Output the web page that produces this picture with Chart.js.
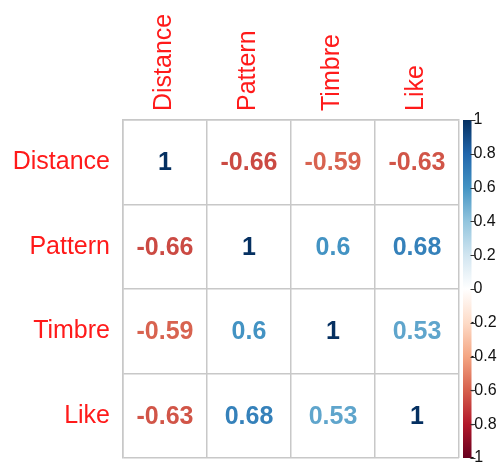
<!DOCTYPE html>
<html lang="en">
<head>
    <meta charset="UTF-8">
    <title>Correlation Matrix</title>
    <script src="https://cdn.jsdelivr.net/npm/chart.js"></script>
    <style>
        body { margin: 0; background: #fff; }
    </style>
</head>
<body>
    <canvas id="corrChart" width="502" height="463"></canvas>

    <script>
        // variables and correlation values (row by row)
        const variables = ['Distance', 'Pattern', 'Timbre', 'Like'];
        const rowDistance = [1, -0.66, -0.59, -0.63];
        const rowPattern = [-0.66, 1, 0.6, 0.68];
        const rowTimbre = [-0.59, 0.6, 1, 0.53];
        const rowLike = [-0.63, 0.68, 0.53, 1];
        const colorbarTicks = [-1, -0.8, -0.6, -0.4, -0.2, 0, 0.2, 0.4, 0.6, 0.8, 1];

        // RdBu palette used by corrplot, from -1 to 1
        const palette = ['#67001F', '#B2182B', '#D6604D', '#F4A582', '#FDDBC7', '#FFFFFF',
                         '#D1E5F0', '#92C5DE', '#4393C3', '#2166AC', '#053061'];

        function hexToRgb(h) {
            return [parseInt(h.slice(1, 3), 16), parseInt(h.slice(3, 5), 16), parseInt(h.slice(5, 7), 16)];
        }

        function colorFor(v) {
            let pos = (v + 1) / 2 * (palette.length - 1);
            let i = Math.min(Math.floor(pos), palette.length - 2);
            let t = pos - i;
            let a = hexToRgb(palette[i]), b = hexToRgb(palette[i + 1]);
            let c = a.map((x, k) => Math.round(x + (b[k] - x) * t));
            return 'rgb(' + c.join(',') + ')';
        }

        // build the points for the scatter dataset
        const rows = [rowDistance, rowPattern, rowTimbre, rowLike];
        const points = [];
        rows.forEach((row, r) => {
            row.forEach((v, c) => {
                points.push({ x: variables[c], y: variables[r], v: v });
            });
        });

        const gridColor = '#c8c8c8';
        const labelRed = '#ff1a1a';
        const fontFamily = '"Liberation Sans", Arial, sans-serif';

        // fixed axis sizes, no extra padding from label overhang
        function fixSize(prop, size) {
            return s => {
                s[prop] = size;
                s.paddingTop = 0;
                s.paddingBottom = 0;
                s.paddingLeft = 0;
                s.paddingRight = 0;
            };
        }

        // draws the coefficient text on each cell
        const cellText = {
            id: 'cellText',
            afterDatasetsDraw(chart) {
                const ctx = chart.ctx;
                const meta = chart.getDatasetMeta(0);
                ctx.save();
                ctx.font = 'bold 25px ' + fontFamily;
                ctx.textAlign = 'center';
                ctx.textBaseline = 'middle';
                meta.data.forEach((pt, i) => {
                    const v = points[i].v;
                    ctx.fillStyle = colorFor(v);
                    ctx.fillText(String(v), pt.x, pt.y + 1);
                });
                ctx.restore();
            }
        };

        // draws the colour bar along the right-hand scale
        const colorBar = {
            id: 'colorBar',
            afterDraw(chart) {
                const s = chart.scales.cb;
                const ctx = chart.ctx;
                const top = s.getPixelForValue(1);
                const bottom = s.getPixelForValue(-1);
                const x0 = s.left + 4;
                const w = 8.5;
                const grad = ctx.createLinearGradient(0, bottom, 0, top);
                palette.forEach((c, i) => grad.addColorStop(i / (palette.length - 1), c));
                ctx.save();
                ctx.fillStyle = grad;
                ctx.fillRect(x0, top, w, bottom - top);
                ctx.strokeStyle = '#333';
                ctx.lineWidth = 1;
                colorbarTicks.forEach(t => {
                    const y = Math.round(s.getPixelForValue(t)) + 0.5;
                    ctx.beginPath();
                    ctx.moveTo(x0 + w - 1, y);
                    ctx.lineTo(x0 + w + 4, y);
                    ctx.stroke();
                });
                ctx.restore();
            }
        };

        const ctx = document.getElementById('corrChart').getContext('2d');
        new Chart(ctx, {
            type: 'scatter',
            data: {
                datasets: [{
                    data: points,
                    pointRadius: 0,
                    pointHoverRadius: 0
                }]
            },
            options: {
                responsive: false,
                animation: false,
                layout: { autoPadding: false, padding: { bottom: 5 } },
                plugins: {
                    legend: { display: false },
                    tooltip: { enabled: false }
                },
                scales: {
                    x: {
                        type: 'category',
                        labels: variables,
                        position: 'top',
                        offset: true,
                        grid: { offset: true, color: gridColor, lineWidth: 1.5, drawTicks: false },
                        border: { color: gridColor, width: 1.5 },
                        ticks: {
                            color: labelRed,
                            font: { family: fontFamily, size: 25 },
                            minRotation: 90,
                            maxRotation: 90,
                            padding: 9,
                            labelOffset: 29,
                            autoSkip: false
                        },
                        afterFit: fixSize('height', 120)
                    },
                    y: {
                        type: 'category',
                        labels: variables,
                        offset: true,
                        grid: { offset: true, color: gridColor, lineWidth: 1.5, drawTicks: false },
                        border: { color: gridColor, width: 1.5 },
                        ticks: {
                            color: labelRed,
                            font: { family: fontFamily, size: 25 },
                            padding: 13,
                            autoSkip: false
                        },
                        afterFit: fixSize('width', 123)
                    },
                    cb: {
                        type: 'linear',
                        position: 'right',
                        min: -1,
                        max: 1,
                        grid: { display: false, drawTicks: false },
                        border: { display: false },
                        afterBuildTicks: s => { s.ticks = colorbarTicks.map(v => ({ value: v })); },
                        ticks: {
                            color: '#111',
                            font: { family: fontFamily, size: 16 },
                            padding: 10,
                            callback: v => {
                                const r = Math.round(v * 10) / 10;
                                return r < 0 ? String(r) : ' ' + r;
                            }
                        },
                        afterFit: fixSize('width', 43)
                    }
                }
            },
            plugins: [cellText, colorBar]
        });
    </script>
</body>
</html>
